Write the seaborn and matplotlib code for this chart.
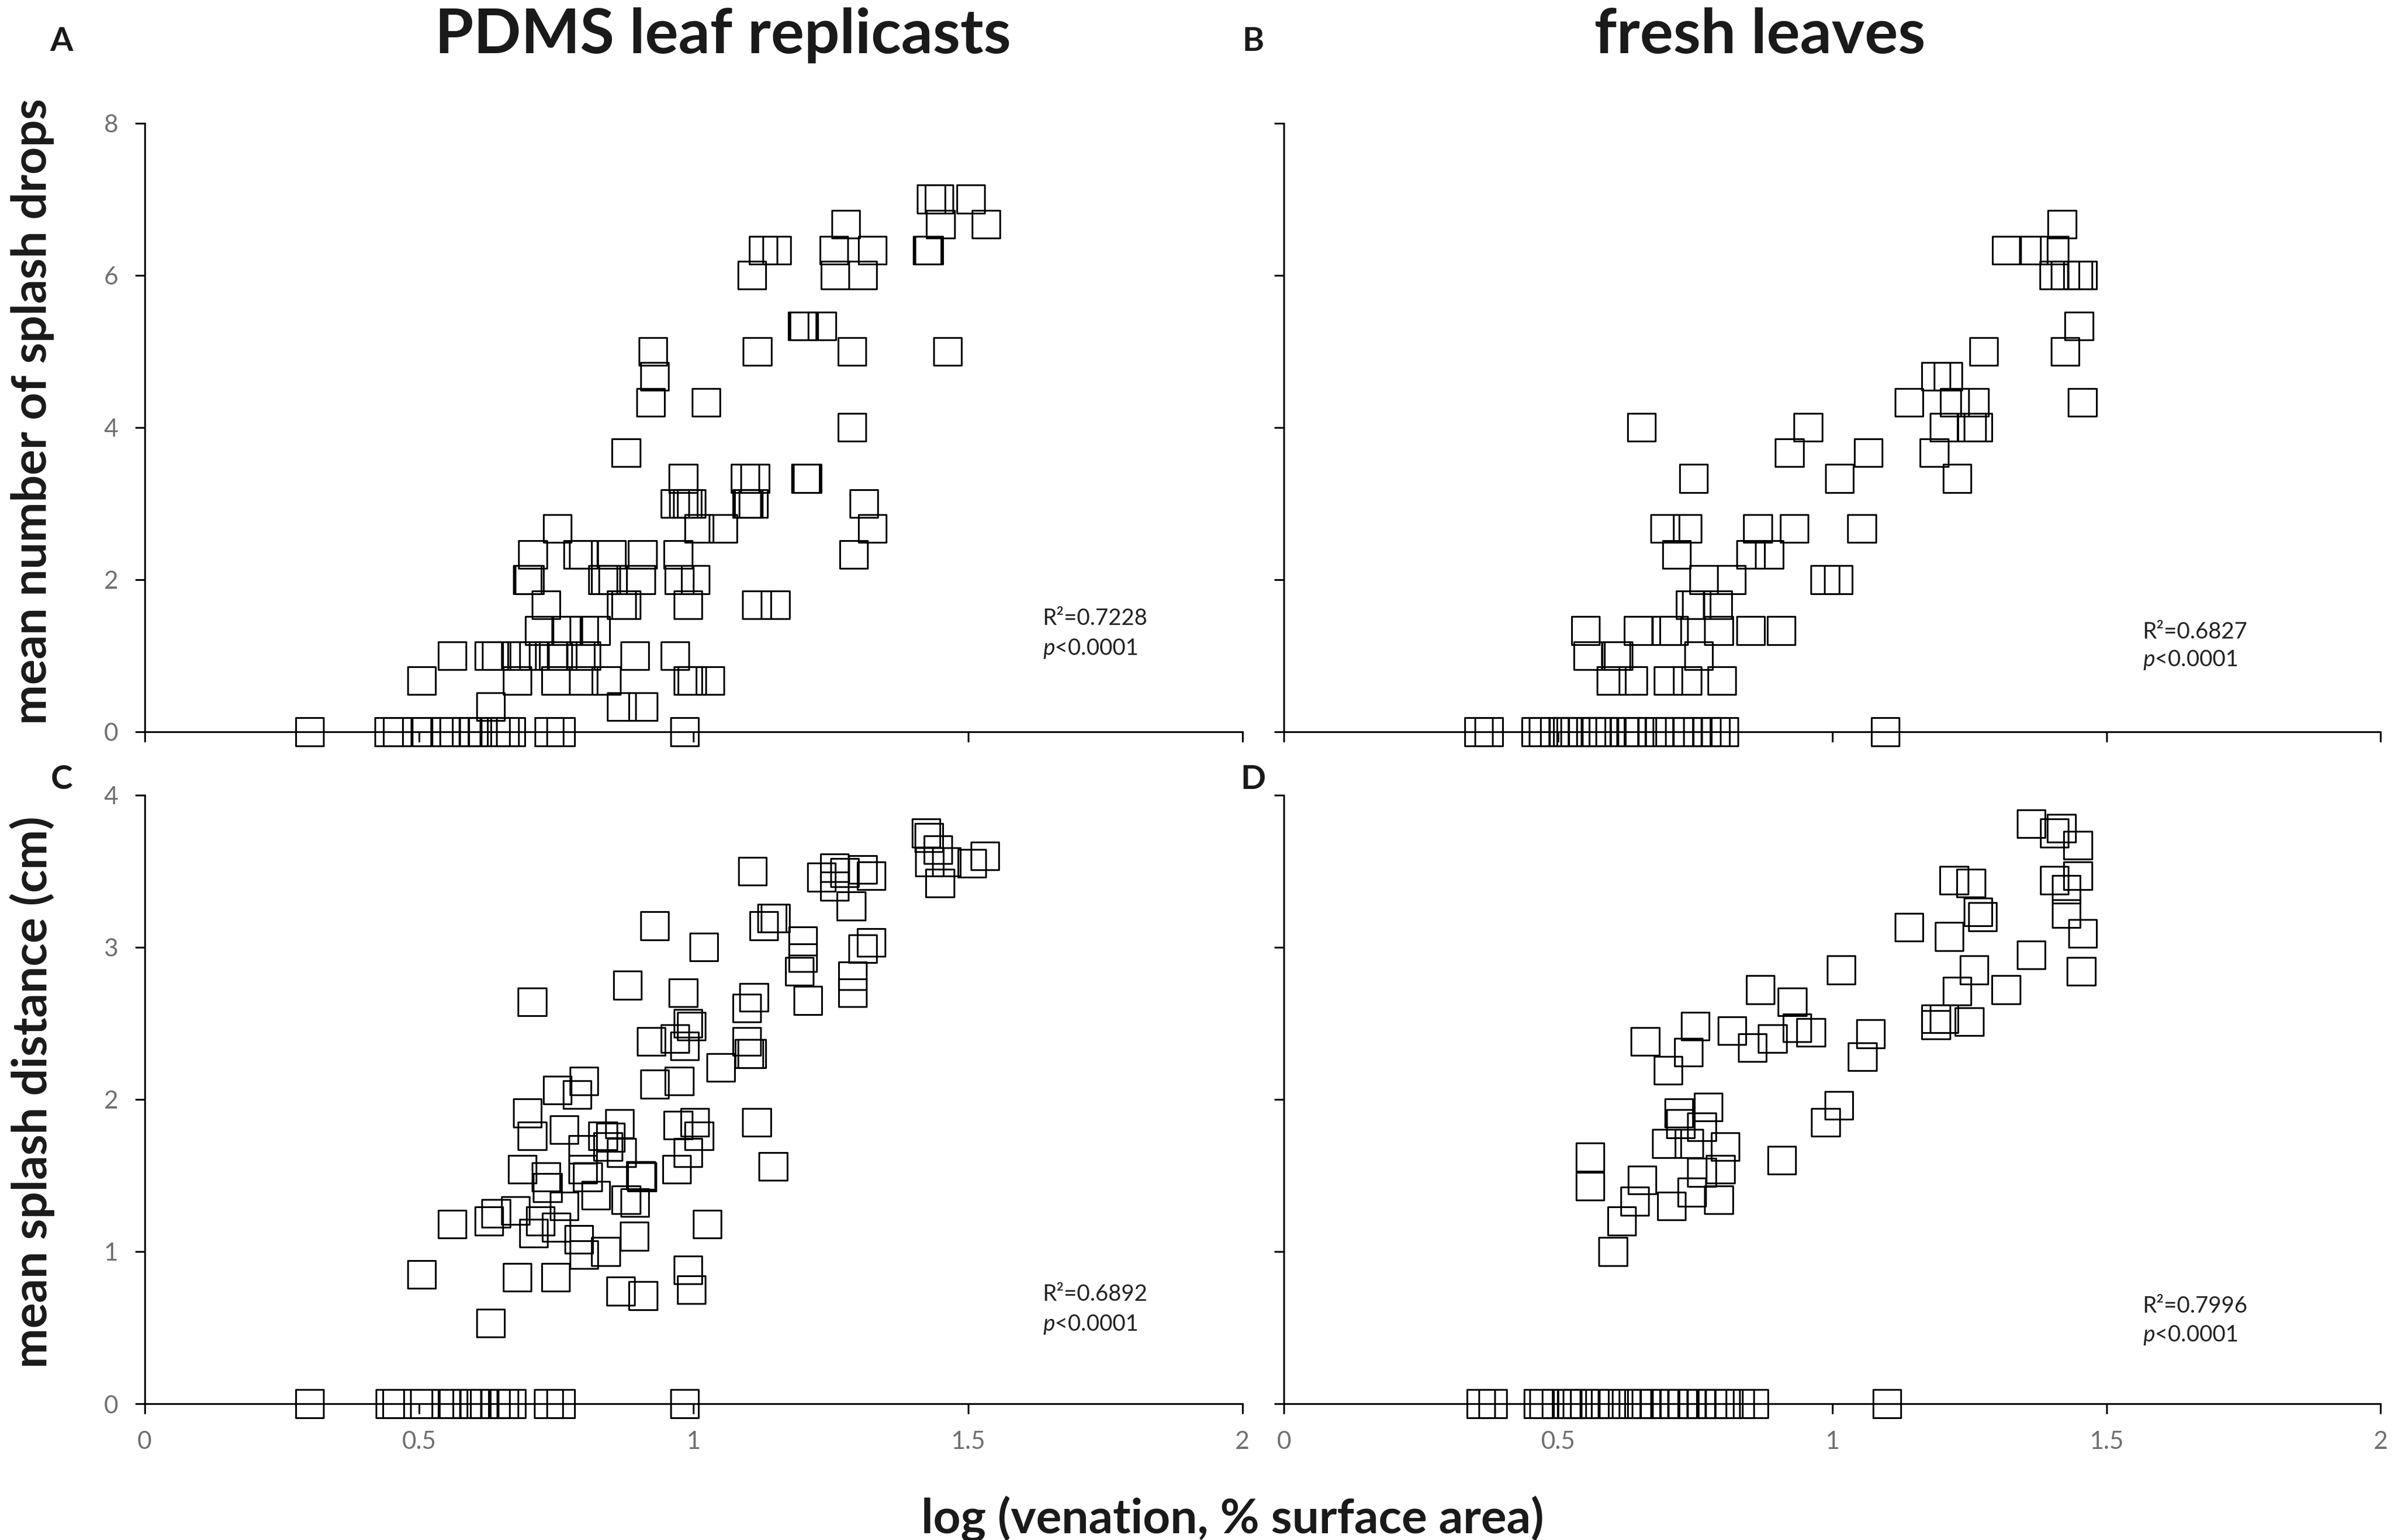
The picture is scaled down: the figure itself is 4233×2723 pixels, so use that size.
import matplotlib
matplotlib.use("Agg")
import matplotlib.pyplot as plt
import matplotlib.ticker as mticker
import pandas as pd
import seaborn as sns

# --- valori ---------------------------------------------------------------
# A: repliche in PDMS, numero medio di gocce
pdms_drops_x = [0.301, 0.445, 0.460, 0.496, 0.513, 0.549, 0.564, 0.586, 0.599, 0.616, 0.639, 0.656, 0.667, 0.737, 0.758, 0.984,
                0.630, 0.869, 0.908,
                0.505, 0.679, 0.749, 0.799, 0.841, 0.990, 0.997, 1.030,
                0.560, 0.627, 0.641, 0.676, 0.687, 0.709, 0.745, 0.761, 0.794, 0.804, 0.893, 0.966,
                0.719, 0.768, 0.800, 0.822,
                0.731, 0.869, 0.877, 0.990, 1.115, 1.149,
                0.697, 0.701, 0.835, 0.840, 0.853, 0.904, 0.974, 1.003,
                0.707, 0.789, 0.799, 0.851, 0.907, 0.972, 1.292,
                0.752, 1.010, 1.054, 1.326,
                0.966, 0.982, 0.989, 0.996, 1.097, 1.100, 1.109, 1.310,
                0.981, 1.094, 1.112, 1.204, 1.207,
                0.877, 1.289, 0.922, 1.023, 0.929,
                0.926, 1.116, 1.289, 1.463,
                1.198, 1.201, 1.234,
                1.106, 1.258, 1.308,
                1.127, 1.152, 1.256, 1.326, 1.426, 1.429,
                1.277, 1.450, 1.533,
                1.433, 1.447, 1.505]
pdms_drops_y = [0, 0, 0, 0, 0, 0, 0, 0, 0, 0, 0, 0, 0, 0, 0, 0,
                0.33, 0.33, 0.33,
                0.67, 0.67, 0.67, 0.67, 0.67, 0.67, 0.67, 0.67,
                1, 1, 1, 1, 1, 1, 1, 1, 1, 1, 1, 1,
                1.33, 1.33, 1.33, 1.33,
                1.67, 1.67, 1.67, 1.67, 1.67, 1.67,
                2, 2, 2, 2, 2, 2, 2, 2,
                2.33, 2.33, 2.33, 2.33, 2.33, 2.33, 2.33,
                2.67, 2.67, 2.67, 2.67,
                3, 3, 3, 3, 3, 3, 3, 3,
                3.33, 3.33, 3.33, 3.33, 3.33,
                3.67, 4, 4.33, 4.33, 4.67,
                5, 5, 5, 5,
                5.33, 5.33, 5.33,
                6, 6, 6,
                6.33, 6.33, 6.33, 6.33, 6.33, 6.33,
                6.67, 6.67, 6.67,
                7, 7, 7]

# B: foglie fresche, numero medio di gocce
fresh_drops_x = [0.355, 0.374, 0.459, 0.473, 0.494, 0.509, 0.517, 0.531, 0.544, 0.560, 0.570, 0.582, 0.595,
                 0.621, 0.635, 0.648, 0.671, 0.684, 0.704, 0.721, 0.736, 0.754, 0.771, 0.787, 0.803, 1.097,
                 0.597, 0.637, 0.701, 0.736, 0.799,
                 0.554, 0.606, 0.610, 0.756,
                 0.550, 0.646, 0.698, 0.711, 0.793, 0.851, 0.907,
                 0.741, 0.752, 0.791,
                 0.766, 0.816, 0.987, 1.011,
                 0.716, 0.851, 0.885,
                 0.695, 0.736, 0.864, 0.931, 1.054,
                 0.747, 1.013, 1.228,
                 0.922, 1.066, 1.186,
                 0.652, 0.956, 1.204, 1.254, 1.266,
                 1.140, 1.223, 1.260, 1.456,
                 1.189, 1.211,
                 1.276, 1.425,
                 1.450,
                 1.404, 1.425, 1.448, 1.456,
                 1.318, 1.367, 1.405,
                 1.419]
fresh_drops_y = [0, 0, 0, 0, 0, 0, 0, 0, 0, 0, 0, 0, 0,
                 0, 0, 0, 0, 0, 0, 0, 0, 0, 0, 0, 0, 0,
                 0.67, 0.67, 0.67, 0.67, 0.67,
                 1, 1, 1, 1,
                 1.33, 1.33, 1.33, 1.33, 1.33, 1.33, 1.33,
                 1.67, 1.67, 1.67,
                 2, 2, 2, 2,
                 2.33, 2.33, 2.33,
                 2.67, 2.67, 2.67, 2.67, 2.67,
                 3.33, 3.33, 3.33,
                 3.67, 3.67, 3.67,
                 4, 4, 4, 4, 4,
                 4.33, 4.33, 4.33, 4.33,
                 4.67, 4.67,
                 5, 5,
                 5.33,
                 6, 6, 6, 6,
                 6.33, 6.33, 6.33,
                 6.67]

# C: repliche in PDMS, distanza media (cm)
pdms_dist_x = [0.301, 0.447, 0.459, 0.498, 0.510, 0.549, 0.562, 0.587, 0.601, 0.619, 0.639, 0.655, 0.668, 0.736, 0.758, 0.984,
               0.929, 1.019, 0.706, 0.880, 0.981, 0.990, 0.996, 0.923, 0.966, 0.984, 1.050, 0.752, 0.800, 0.788,
               0.929, 0.974, 0.697, 0.706, 0.764, 0.835, 0.865, 0.849, 0.844, 0.869, 0.798, 0.972, 1.002, 1.010,
               0.990, 0.688, 0.731, 0.734, 0.807, 0.798, 0.904, 0.906, 0.969, 0.822, 0.877, 0.893, 0.676, 0.640,
               0.627, 0.560, 0.721, 0.709, 0.750, 0.764, 0.791, 0.800, 0.840, 0.892, 1.025, 0.505, 0.679, 0.749,
               0.867, 0.908, 0.990, 0.996, 0.630,
               1.424, 1.429, 1.445, 1.430, 1.461, 1.507, 1.531, 1.449, 1.107, 1.233, 1.257, 1.275, 1.308, 1.324,
               1.257, 1.287, 1.143, 1.149, 1.128, 1.199, 1.199, 1.193, 1.208, 1.324, 1.308, 1.290, 1.290, 1.110,
               1.097, 1.097, 1.101, 1.106, 1.115, 1.145]
pdms_dist_y = [0, 0, 0, 0, 0, 0, 0, 0, 0, 0, 0, 0, 0, 0, 0, 0,
               3.14, 3.00, 2.64, 2.75, 2.70, 2.50, 2.48, 2.38, 2.40, 2.35, 2.21, 2.06, 2.12, 2.03,
               2.10, 2.12, 1.91, 1.76, 1.80, 1.76, 1.84, 1.75, 1.69, 1.65, 1.67, 1.83, 1.85, 1.76,
               1.65, 1.54, 1.49, 1.42, 1.49, 1.54, 1.50, 1.49, 1.54, 1.37, 1.34, 1.32, 1.27, 1.25,
               1.20, 1.18, 1.20, 1.12, 1.16, 1.30, 1.08, 0.98, 1.00, 1.10, 1.18, 0.85, 0.83, 0.83,
               0.74, 0.71, 0.88, 0.75, 0.53,
               3.75, 3.72, 3.64, 3.56, 3.56, 3.55, 3.60, 3.42, 3.50, 3.46, 3.52, 3.49, 3.51, 3.47,
               3.40, 3.27, 3.19, 3.19, 3.14, 3.04, 2.93, 2.84, 2.65, 3.03, 2.99, 2.81, 2.70, 2.67,
               2.60, 2.38, 2.30, 2.30, 1.85, 1.56]

# D: foglie fresche, distanza media (cm)
fresh_dist_x = [0.359, 0.381, 0.464, 0.474, 0.497, 0.517, 0.525, 0.535, 0.548, 0.566, 0.586, 0.601, 0.625, 0.647,
                0.661, 0.675, 0.695, 0.711, 0.727, 0.744, 0.761, 0.781, 0.794, 0.811, 0.832, 0.857, 1.100,
                0.558, 0.558, 0.600, 0.616, 0.640, 0.653, 0.707, 0.744, 0.762, 0.793, 0.796, 0.805, 0.698, 0.739,
                0.720, 0.723, 0.762, 0.774, 0.908, 0.988, 1.012, 0.659, 0.701, 0.738, 0.750, 0.817, 0.854, 0.869,
                0.891, 0.927, 0.936, 0.961, 1.016, 1.055, 1.070, 1.189, 1.204, 1.189, 1.250, 1.228, 1.259, 1.140,
                1.213, 1.317, 1.363, 1.454, 1.222, 1.253, 1.266, 1.274, 1.363, 1.405, 1.418, 1.448, 1.448, 1.405,
                1.427, 1.427, 1.457]
fresh_dist_y = [0, 0, 0, 0, 0, 0, 0, 0, 0, 0, 0, 0, 0, 0,
                0, 0, 0, 0, 0, 0, 0, 0, 0, 0, 0, 0, 0,
                1.62, 1.43, 1.00, 1.20, 1.33, 1.47, 1.30, 1.39, 1.52, 1.34, 1.54, 1.69, 1.71, 1.71,
                1.91, 1.84, 1.82, 1.95, 1.60, 1.85, 1.96, 2.38, 2.19, 2.31, 2.48, 2.45, 2.34, 2.72,
                2.40, 2.64, 2.47, 2.44, 2.85, 2.28, 2.43, 2.53, 2.53, 2.49, 2.51, 2.71, 2.85, 3.13,
                3.07, 2.72, 2.95, 2.84, 3.44, 3.42, 3.23, 3.20, 3.81, 3.75, 3.78, 3.67, 3.47, 3.44,
                3.38, 3.22, 3.09]

col_titles = ["PDMS leaf replicasts", "fresh leaves"]
row_labels = ["mean number of splash drops", "mean splash distance (cm)"]
x_label = "log (venation, % surface area)"
panel_letters = ["A", "B", "C", "D"]
r2_texts = ["R²=0.7228", "R²=0.6827", "R²=0.6892", "R²=0.7996"]
x_ticks = [0, 0.5, 1, 1.5, 2]
drops_ticks = [0, 2, 4, 6, 8]
dist_ticks = [0, 1, 2, 3, 4]

# --- stile -----------------------------------------------------------------
sns.set_style("white")
plt.rcParams['font.family'] = ['Lato', 'DejaVu Sans']
plt.rcParams['mathtext.fontset'] = 'custom'
plt.rcParams['mathtext.rm'] = 'Lato'
plt.rcParams['mathtext.it'] = 'Lato:italic'

tick_grey = '#6f6f6f'

fig = plt.figure(figsize=(4233 / 300, 2723 / 300), dpi=300, facecolor='white')

# posizioni degli assi (frazioni della figura)
positions = [
    [0.0604, 0.5248, 0.4586, 0.3953],
    [0.5363, 0.5248, 0.4581, 0.3953],
    [0.0604, 0.0885, 0.4586, 0.3953],
    [0.5363, 0.0885, 0.4581, 0.3953],
]

panels = [
    (pdms_drops_x, pdms_drops_y, drops_ticks, 1.636, 1.49, 1.09),
    (fresh_drops_x, fresh_drops_y, drops_ticks, 1.566, 1.31, 0.94),
    (pdms_dist_x, pdms_dist_y, dist_ticks, 1.636, 0.72, 0.52),
    (fresh_dist_x, fresh_dist_y, dist_ticks, 1.566, 0.64, 0.45),
]

fmt = mticker.FuncFormatter(lambda v, p: f"{v:g}")

for i, (xs, ys, yt, tx, ty_r2, ty_p) in enumerate(panels):
    ax = fig.add_axes(positions[i])
    df = pd.DataFrame({"venation": xs, "value": ys})
    sns.scatterplot(data=df, x="venation", y="value", ax=ax, marker='s', s=140,
                    facecolor='none', edgecolor='black', linewidth=0.75,
                    clip_on=False, zorder=3, legend=False)

    ax.set_xlim(0, 2)
    ax.set_ylim(yt[0], yt[-1])
    ax.set_xticks(x_ticks)
    ax.set_yticks(yt)
    ax.xaxis.set_major_formatter(fmt)
    ax.yaxis.set_major_formatter(fmt)
    ax.set_xlabel('')
    ax.set_ylabel('')

    # spallette: solo sinistra e basso
    for side in ['top', 'right']:
        ax.spines[side].set_visible(False)
    for side in ['left', 'bottom']:
        ax.spines[side].set_color('black')
        ax.spines[side].set_linewidth(0.75)

    ax.tick_params(axis='both', direction='out', length=4.2, width=0.75, color='black',
                   labelcolor=tick_grey, labelsize=10.5, pad=7)
    ax.tick_params(axis='x', bottom=True)
    ax.tick_params(axis='y', left=True)
    if i < 2:
        ax.tick_params(axis='x', labelbottom=False)
    if i % 2 == 1:
        ax.tick_params(axis='y', labelleft=False)

    # R^2 e p
    ax.text(tx, ty_r2, r2_texts[i], fontsize=9.5, color='#222222', ha='left', va='center')
    ax.text(tx, ty_p, r"$\it{p}$<0.0001", fontsize=9.5, color='#222222', ha='left', va='center')

# titoli delle colonne
fig.text(0.302, 0.977, col_titles[0], fontsize=26.5, fontweight='bold', color='#1a1a1a', ha='center', va='center')
fig.text(0.735, 0.977, col_titles[1], fontsize=26.5, fontweight='bold', color='#1a1a1a', ha='center', va='center')

# etichette degli assi
fig.text(0.0135, 0.733, row_labels[0], fontsize=20.3, fontweight='bold', color='#1a1a1a',
         rotation=90, ha='center', va='center')
fig.text(0.0135, 0.291, row_labels[1], fontsize=20.3, fontweight='bold', color='#1a1a1a',
         rotation=90, ha='center', va='center')
fig.text(0.5148, 0.0135, x_label, fontsize=20.3, fontweight='bold', color='#1a1a1a',
         ha='center', va='center')

# lettere dei pannelli
letter_pos = [(0.0257, 0.973), (0.5235, 0.973), (0.0257, 0.4936), (0.5235, 0.4936)]
for letter, (lx, ly) in zip(panel_letters, letter_pos):
    fig.text(lx, ly, letter, fontsize=14, fontweight='bold', color='#1a1a1a', ha='center', va='center')

fig.savefig("out.png", dpi=300, facecolor='white')
